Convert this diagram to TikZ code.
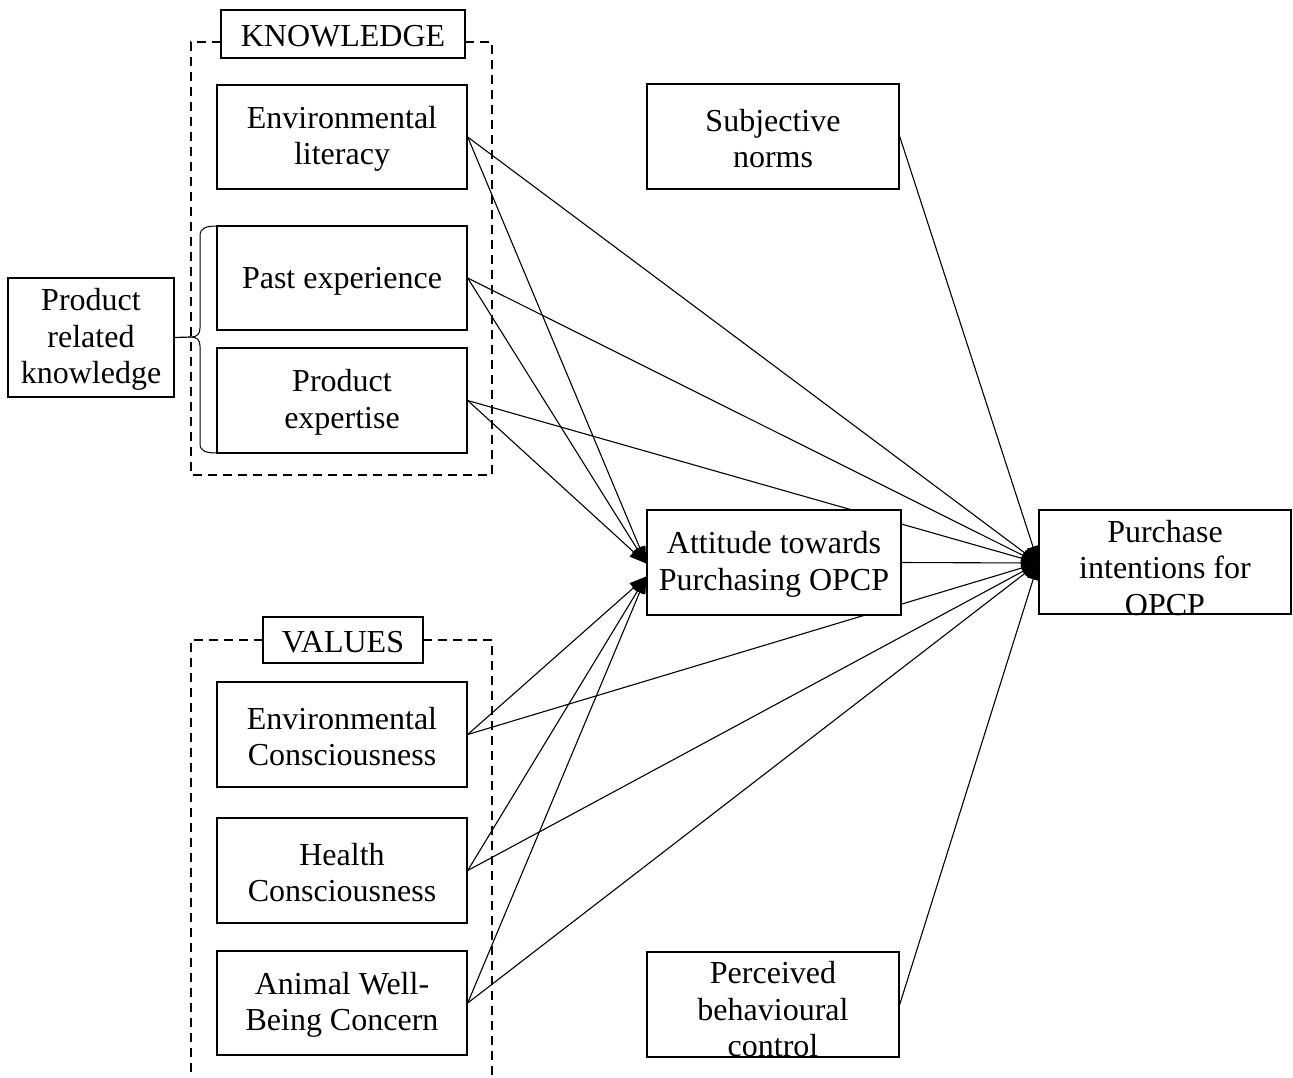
\documentclass[tikz,border=0pt]{standalone}
\usepackage{fontspec}
\setmainfont{Liberation Serif}
\usetikzlibrary{arrows.meta,backgrounds,calc}
\newcommand{\bx}[6]{%
  \node[box,minimum width=#3pt,minimum height=#4pt] (#1) at (#2) {};
  \node[txt] (#1-t) at ($(#2)+(0,#5)$) {#6};}
\begin{document}
\begin{tikzpicture}[x=1pt,y=-1pt,
  box/.style={draw,line width=1.4pt,fill=white,inner sep=0pt},
  txt/.style={inner sep=0pt,align=center,font=\fontsize{32}{36.5}\selectfont},
  frame/.style={line width=1.3pt,dash pattern=on 9pt off 6pt},
  arr/.style={line width=1.1pt,-{Triangle[length=17pt,width=12pt]}}]
\useasboundingbox (0,0) rectangle (1293,1077);
% dashed frames
\draw[frame] (221,42) -- (191,42) -- (191,475) -- (492,475) -- (492,42) -- (465,42);
\draw[frame] (263,640) -- (191,640) -- (191,1085);
\draw[frame] (423,640) -- (492,640) -- (492,1085);
% group labels
\bx{know}{343,34}{244}{48}{2}{KNOWLEDGE}
\bx{val}{343,640}{160}{46}{2}{VALUES}
% boxes
\bx{el}{342,137}{250}{104}{2}{Environmental\\literacy}
\bx{pe}{342,278}{250}{104}{3}{Past experience}
\bx{px}{342,400.5}{250}{105}{2}{Product\\expertise}
\bx{prk}{91,337.5}{166}{119}{2}{Product\\related\\knowledge}
\bx{sn}{773,136.5}{252}{105}{2}{Subjective\\norms}
\bx{att}{774,562.5}{254}{105}{2}{Attitude towards\\Purchasing OPCP}
\bx{pi}{1165,562}{252}{104}{6}{Purchase\\intentions for\\OPCP}
\bx{ec}{342,734.5}{250}{105}{2}{Environmental\\Consciousness}
\bx{hc}{342,870.5}{250}{105}{2}{Health\\Consciousness}
\bx{aw}{342,1003}{250}{104}{2}{Animal Well-\\Being Concern}
\bx{pbc}{773,1004.5}{252}{105}{5}{Perceived\\behavioural\\control}
% brace
\coordinate (tip) at (191,337);
\draw[line width=1pt] (217,226) .. controls (206,226) and (200,228) .. (200,236) -- (200,328)
  .. controls (200,334) and (197,337) .. (tip) .. controls (197,337) and (200,340) .. (200,346)
  -- (200,444) .. controls (200,451) and (206,453) .. (217,453);
\draw[line width=1.2pt] (prk.east) -- (tip);
% connectors
\coordinate (aT) at ($(att.west)+(0,1)$);
\coordinate (aB) at ($(att.west)+(0,14)$);
\coordinate (pT) at ($(pi.west)+(0,1)$);
\begin{scope}[on background layer]
\foreach \s in {el,pe,px} {\draw[arr] (\s.east) -- (aT);}
\foreach \s in {ec,hc,aw} {\draw[arr] (\s.east) -- (aB);}
\foreach \s in {el,pe,px,ec,hc,aw,sn,pbc,att} {\draw[arr] (\s.east) -- (pT);}
\end{scope}
\end{tikzpicture}
\end{document}
